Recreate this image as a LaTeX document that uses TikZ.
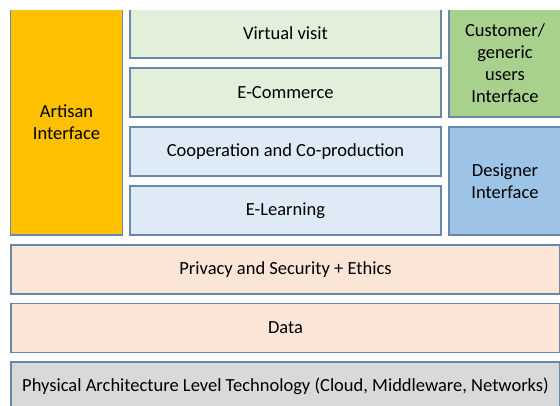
\documentclass[tikz,border=0pt]{standalone}
\usepackage{fontspec}
\setmainfont{Carlito}
\definecolor{edge}{RGB}{105,135,170}
\definecolor{artisan}{RGB}{255,192,0}
\definecolor{lgreen}{RGB}{226,239,218}
\definecolor{lblue}{RGB}{222,235,247}
\definecolor{mgreen}{RGB}{169,209,142}
\definecolor{mblue}{RGB}{157,195,230}
\definecolor{peach}{RGB}{251,229,214}
\definecolor{lgray}{RGB}{217,217,217}
\begin{document}
\begin{tikzpicture}
	[x=1pt,y=-1pt,
	box/.style={rectangle,draw=edge,line width=1.2pt,align=center,inner sep=0pt,
		font=\fontsize{18.5}{22}\selectfont},
	service/.style={box,minimum width=311pt,minimum height=49pt},
	side/.style={box,minimum width=112pt},
	layer/.style={box,minimum width=549pt,minimum height=49pt}
	]
	\useasboundingbox (0,0) rectangle (560,406);
	\begin{scope}
	\clip (0,11) rectangle (560,406);
	% interfaces on both sides
	\node[side,fill=artisan,minimum height=226pt] (artisan) at (66.5,122){Artisan\\Interface};
	\node[side,fill=mgreen,minimum height=108pt] (customer) at (505,63){Customer/\\generic\\users\\Interface};
	\node[side,fill=mblue,minimum height=108pt] (designer) at (505,181){Designer\\Interface};

	% services in the middle
	\node[service,fill=lgreen] (visit) at (285.5,33.5){Virtual visit};
	\node[service,fill=lgreen] (ecom) at (285.5,92.5){E-Commerce};
	\node[service,fill=lblue] (coop) at (285.5,151.5){Cooperation and Co-production};
	\node[service,fill=lblue] (elearn) at (285.5,210.5){E-Learning};

	% lower layers
	\node[layer,fill=peach] (privacy) at (285.5,269.5){Privacy and Security + Ethics};
	\node[layer,fill=peach] (data) at (285.5,328){Data};
	\node[layer,fill=lgray] (physical) at (285.5,386.5){Physical Architecture Level Technology (Cloud, Middleware, Networks)};
	\end{scope}
\end{tikzpicture}
\end{document}
